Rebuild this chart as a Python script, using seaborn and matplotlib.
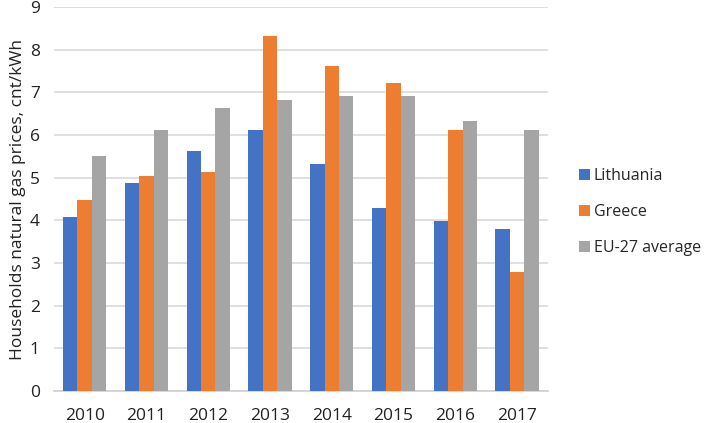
import numpy as np
import pandas as pd
import matplotlib.pyplot as plt
import seaborn as sns

years = ['2010', '2011', '2012', '2013', '2014', '2015', '2016', '2017']
lithuania = [4.08, 4.88, 5.63, 6.13, 5.33, 4.28, 3.99, 3.79]
greece = [4.48, 5.03, 5.13, 8.32, 7.61, 7.22, 6.12, 2.79]
eu27 = [5.52, 6.12, 6.63, 6.82, 6.92, 6.92, 6.32, 6.12]
series = ['Lithuania', 'Greece', 'EU-27 average']
colors = ['#4472C4', '#ED7D31', '#A5A5A5']

df = pd.DataFrame({'year': years * 3,
                   'price': lithuania + greece + eu27,
                   'country': np.repeat(series, len(years))})

sns.set_style('white')
plt.rcParams['font.family'] = ['Open Sans', 'DejaVu Sans']

fig, ax = plt.subplots(figsize=(7.08, 4.23), dpi=100)
fig.subplots_adjust(left=0.076, right=0.774, bottom=0.076, top=0.983)

sns.barplot(data=df, x='year', y='price', hue='country', palette=colors,
            width=0.7, saturation=1, linewidth=0, ax=ax, zorder=3)

ax.set_ylim(0, 9)
ax.set_yticks(range(0, 10))
ax.grid(axis='y', color='#d9d9d9', linewidth=1.2, zorder=0)
ax.set_axisbelow(True)
for s in ['top', 'right', 'left']:
    ax.spines[s].set_visible(False)
ax.spines['bottom'].set_color('#d0d0d0')
ax.spines['bottom'].set_linewidth(1.2)
ax.tick_params(axis='y', length=0, labelsize=12.5, colors='#222222', pad=10)
ax.tick_params(axis='x', length=0, labelsize=12.5, colors='#222222', pad=12)
ax.set_xlabel('')
ax.set_ylabel('Households natural gas prices, cnt/kWh', fontsize=12.5,
              color='#222222', labelpad=3)

ax.legend(loc='center left', bbox_to_anchor=(1.063, 0.466), frameon=False,
          fontsize=11.5, handlelength=0.65, handleheight=0.65, handletextpad=0.25,
          labelspacing=1.25, borderpad=0, borderaxespad=0)

fig.savefig('out.png', dpi=100)
